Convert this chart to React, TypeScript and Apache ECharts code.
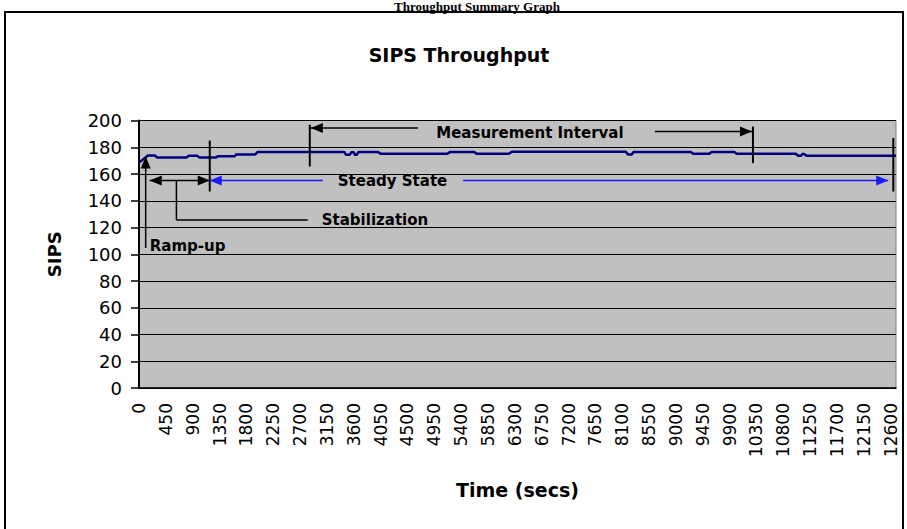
import React, { useEffect, useRef } from "react";
import * as echarts from "echarts";

// ---- data ----
const DOC_TITLE = "Throughput Summary Graph";
const CHART_TITLE = "SIPS Throughput";
const X_NAME = "Time (secs)";
const Y_NAME = "SIPS";

const X_MIN = 0;
const X_MAX = 12690;
const X_INTERVAL = 450;
const Y_MIN = 0;
const Y_MAX = 200;
const Y_INTERVAL = 20;

// sample times (s) and SIPS values where the throughput line changes level
const times = [
  0, 150, 270, 300, 800, 830, 980, 1010, 1290, 1320, 1600, 1630, 1950, 1990,
  3440, 3470, 3530, 3560, 3600, 3620, 3650, 3680, 4000, 4050, 5170, 5220,
  5620, 5660, 6200, 6250, 8160, 8200, 8260, 8290, 9250, 9290, 9560, 9600,
  9980, 10020, 11010, 11050, 11100, 11120, 11150, 11190, 12690,
];
const sips = [
  168.5, 173.8, 173.8, 172.4, 172.4, 173.6, 173.6, 172.4, 172.4, 173.2, 173.2,
  174.6, 174.6, 176.5, 176.5, 174.3, 174.3, 176.3, 176.3, 174.3, 174.3, 176.5,
  176.5, 175.2, 175.2, 176.5, 176.5, 175.1, 175.1, 176.7, 176.7, 174.5, 174.5,
  176.5, 176.5, 175.1, 175.1, 176.4, 176.4, 175.1, 175.1, 173.6, 173.6, 175.0,
  175.0, 173.7, 173.7,
];

// annotation anchors in data units [time, SIPS]
const RAMP_UP = { label: "Ramp-up", x: 112, yFrom: 104.7, yTo: 173, textX: 180, textY: 106 };
const STABILIZATION = {
  label: "Stabilization",
  xFrom: 180, xTo: 1186, y: 155.1,
  stemX: 627, stemY: 125.7, legEnd: 2829, textX: 3064,
};
const STEADY_STATE = {
  label: "Steady State",
  xFrom: 1186, xTo: 12560, y: 155.1, gapFrom: 3081, gapTo: 5433, textX: 4250,
};
const MARKERS = [
  { x: 1186, yFrom: 185, yTo: 146.9 },
  { x: 12645, yFrom: 187, yTo: 146.9 },
  { x: 2863, yFrom: 196.8, yTo: 165.6 },
  { x: 10292, yFrom: 195.5, yTo: 168.1 },
];
const MEASUREMENT = {
  label: "Measurement Interval",
  leftFrom: 2880, leftTo: 4675, leftY: 194.3,
  rightFrom: 8648, rightTo: 10275, rightY: 191.8,
  textX: 6553, textY: 190.8,
};

const SANS = "DejaVu Sans";

export default function App() {
  const ref = useRef<HTMLDivElement>(null);

  useEffect(() => {
    const chart = echarts.init(ref.current!, null, { renderer: "svg" });
    const lineData = times.map((t, i) => [t, sips[i]]);

    chart.setOption({
      animation: false,
      backgroundColor: "#ffffff",
      title: {
        text: CHART_TITLE,
        left: 454,
        top: 40,
        textAlign: "center",
        textStyle: { fontFamily: SANS, fontWeight: "bold", fontSize: 19, color: "#000" },
      },
      grid: {
        left: 139,
        right: 11,
        top: 120.5,
        bottom: 141,
        show: true,
        backgroundColor: "#c0c0c0",
        borderColor: "#808080",
        borderWidth: 1,
      },
      xAxis: {
        type: "value",
        min: X_MIN,
        max: X_MAX,
        interval: X_INTERVAL,
        name: X_NAME,
        nameLocation: "middle",
        nameGap: 92,
        nameTextStyle: { fontFamily: SANS, fontWeight: "bold", fontSize: 19, color: "#000" },
        axisLine: { show: true, lineStyle: { color: "#000", width: 1.5 } },
        axisTick: { show: false },
        splitLine: { show: false },
        axisLabel: {
          rotate: 90,
          margin: 15,
          showMaxLabel: false,
          formatter: (v: number) => String(v),
          fontFamily: SANS,
          fontSize: 17,
          color: "#000",
        },
      },
      yAxis: {
        type: "value",
        min: Y_MIN,
        max: Y_MAX,
        interval: Y_INTERVAL,
        name: Y_NAME,
        nameLocation: "middle",
        nameGap: 76,
        nameTextStyle: { fontFamily: SANS, fontWeight: "bold", fontSize: 18, color: "#000" },
        axisLine: { show: true, lineStyle: { color: "#000", width: 2 } },
        axisTick: { show: true, length: 8, lineStyle: { color: "#000", width: 1.5 } },
        splitLine: { show: true, lineStyle: { color: "#000", width: 1 } },
        axisLabel: {
          margin: 17,
          formatter: (v: number) => String(v),
          fontFamily: SANS,
          fontSize: 18,
          color: "#000",
        },
      },
      series: [
        {
          type: "line",
          data: lineData,
          showSymbol: false,
          lineStyle: { color: "#000080", width: 2.5 },
          z: 3,
        },
      ],
    });

    const P = (t: number, v: number) =>
      chart.convertToPixel({ gridIndex: 0 }, [t, v]) as number[];

    const line = (a: number[], b: number[], color = "#000", w = 1.5) => ({
      type: "line",
      silent: true,
      z: 10,
      shape: { x1: a[0], y1: a[1], x2: b[0], y2: b[1] },
      style: { stroke: color, lineWidth: w },
    });
    const head = (tip: number[], dir: "left" | "right" | "up", color = "#000") => {
      const L = 12, H = 5;
      let pts: number[][];
      if (dir === "left") pts = [tip, [tip[0] + L, tip[1] - H], [tip[0] + L, tip[1] + H]];
      else if (dir === "right") pts = [tip, [tip[0] - L, tip[1] - H], [tip[0] - L, tip[1] + H]];
      else pts = [tip, [tip[0] - H, tip[1] + L], [tip[0] + H, tip[1] + L]];
      return { type: "polygon", silent: true, z: 11, shape: { points: pts }, style: { fill: color } };
    };
    const text = (p: number[], s: string, align = "left") => ({
      type: "text",
      silent: true,
      z: 12,
      x: p[0],
      y: p[1],
      style: {
        text: s,
        fill: "#000",
        fontFamily: SANS,
        fontWeight: "bold",
        fontSize: 15,
        align,
        verticalAlign: "middle",
      },
    });

    const g: any[] = [];
    // page frame & document heading
    g.push({
      type: "rect",
      silent: true,
      z: 0,
      shape: { x: 5, y: 12, width: 898, height: 530 },
      style: { fill: "none", stroke: "#000", lineWidth: 2 },
    });
    g.push({
      type: "text",
      silent: true,
      x: 477,
      y: 0,
      style: {
        text: DOC_TITLE,
        fill: "#000",
        fontFamily: "Liberation Serif",
        fontWeight: "bold",
        fontSize: 13,
        align: "center",
        verticalAlign: "top",
      },
    });

    // Ramp-up
    g.push(line(P(RAMP_UP.x, RAMP_UP.yFrom), P(RAMP_UP.x, RAMP_UP.yTo)));
    g.push(head(P(RAMP_UP.x, RAMP_UP.yTo), "up"));
    g.push(text(P(RAMP_UP.textX, RAMP_UP.textY), RAMP_UP.label));

    // Stabilization
    g.push(line(P(STABILIZATION.xFrom, STABILIZATION.y), P(STABILIZATION.xTo, STABILIZATION.y)));
    g.push(head(P(STABILIZATION.xFrom, STABILIZATION.y), "left"));
    g.push(head(P(STABILIZATION.xTo, STABILIZATION.y), "right"));
    g.push(line(P(STABILIZATION.stemX, STABILIZATION.y), P(STABILIZATION.stemX, STABILIZATION.stemY)));
    g.push(line(P(STABILIZATION.stemX, STABILIZATION.stemY), P(STABILIZATION.legEnd, STABILIZATION.stemY)));
    g.push(text(P(STABILIZATION.textX, STABILIZATION.stemY), STABILIZATION.label));

    // Steady state (blue)
    const BLUE = "#1a1aff";
    g.push(line(P(STEADY_STATE.xFrom, STEADY_STATE.y), P(STEADY_STATE.gapFrom, STEADY_STATE.y), BLUE));
    g.push(line(P(STEADY_STATE.gapTo, STEADY_STATE.y), P(STEADY_STATE.xTo, STEADY_STATE.y), BLUE));
    g.push(head(P(STEADY_STATE.xFrom, STEADY_STATE.y), "left", BLUE));
    g.push(head(P(STEADY_STATE.xTo, STEADY_STATE.y), "right", BLUE));
    g.push(text(P(STEADY_STATE.textX, STEADY_STATE.y), STEADY_STATE.label, "center"));

    // vertical markers
    MARKERS.forEach((m) => g.push(line(P(m.x, m.yFrom), P(m.x, m.yTo), "#000", 2)));

    // Measurement interval
    g.push(line(P(MEASUREMENT.leftFrom, MEASUREMENT.leftY), P(MEASUREMENT.leftTo, MEASUREMENT.leftY)));
    g.push(head(P(MEASUREMENT.leftFrom, MEASUREMENT.leftY), "left"));
    g.push(line(P(MEASUREMENT.rightFrom, MEASUREMENT.rightY), P(MEASUREMENT.rightTo, MEASUREMENT.rightY)));
    g.push(head(P(MEASUREMENT.rightTo, MEASUREMENT.rightY), "right"));
    g.push(text(P(MEASUREMENT.textX, MEASUREMENT.textY), MEASUREMENT.label, "center"));

    chart.setOption({ graphic: g });

    return () => chart.dispose();
  }, []);

  return (
    <div
      ref={ref}
      style={{ position: "absolute", left: 0, top: 0, width: 907, height: 529, background: "#fff" }}
    />
  );
}
